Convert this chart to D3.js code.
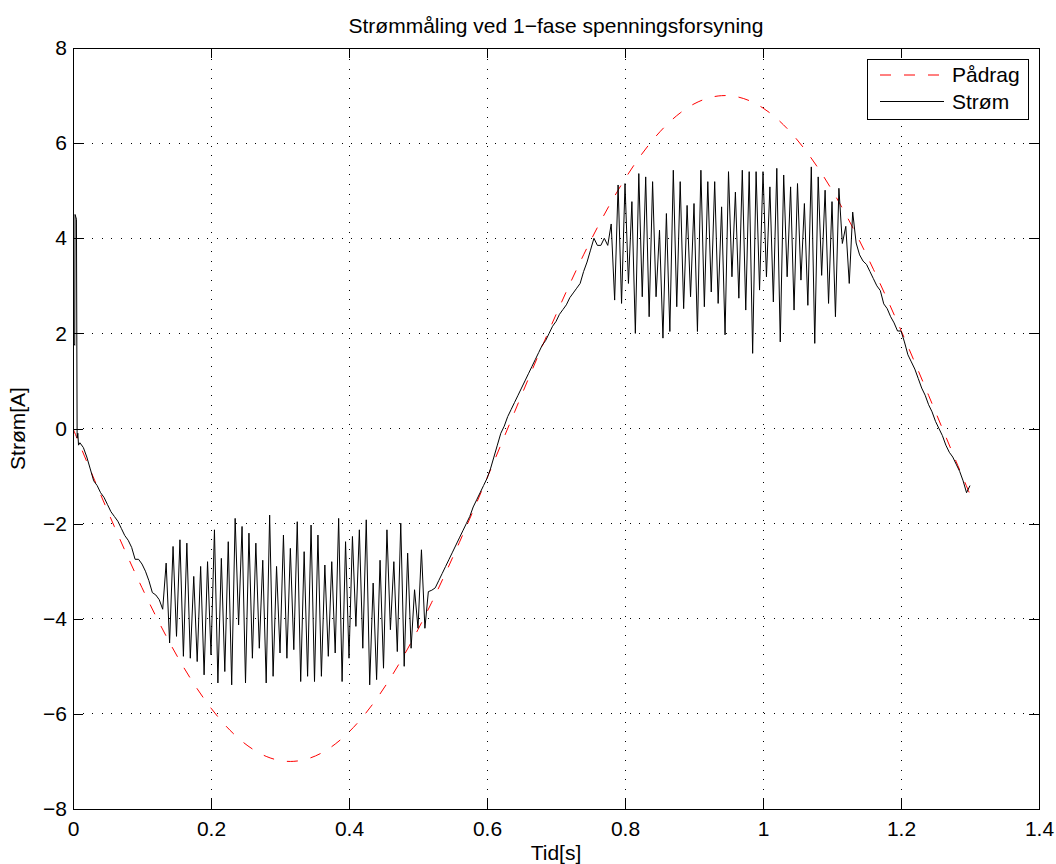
<!DOCTYPE html>
<html>
<head>
<meta charset="utf-8">
<script src="https://cdn.jsdelivr.net/npm/d3@7"></script>
<style>
  body { margin: 0; background: #fff; }
  svg { display: block; font-family: "Liberation Sans", Arial, Helvetica, sans-serif; }
</style>
</head>
<body>
<script>
// tick values
const xTicks = [0, 0.2, 0.4, 0.6, 0.8, 1, 1.2, 1.4];
const yTicks = [-8, -6, -4, -2, 0, 2, 4, 6, 8];

// Pådrag (red dashed), [tid, verdi]
const paadrag = [
  [0,0],[0.02,-0.697],[0.04,-1.387],[0.06,-2.064],[0.08,-2.719],[0.10,-3.348],[0.12,-3.943],
  [0.14,-4.500],[0.16,-5.012],[0.18,-5.473],[0.20,-5.879],[0.22,-6.229],[0.24,-6.516],[0.26,-6.738],
  [0.28,-6.894],[0.30,-6.981],[0.32,-6.998],[0.34,-6.945],[0.36,-6.824],[0.38,-6.635],[0.40,-6.380],
  [0.42,-6.062],[0.44,-5.683],[0.46,-5.248],[0.48,-4.761],[0.50,-4.227],[0.52,-3.652],[0.54,-3.038],
  [0.56,-2.394],[0.58,-1.729],[0.60,-1.045],[0.62,-0.349],[0.64,0.349],[0.66,1.045],[0.68,1.729],
  [0.70,2.394],[0.72,3.038],[0.74,3.652],[0.76,4.227],[0.78,4.761],[0.80,5.248],[0.82,5.683],
  [0.84,6.062],[0.86,6.380],[0.88,6.635],[0.90,6.824],[0.92,6.945],[0.94,6.998],[0.96,6.981],
  [0.98,6.894],[1.00,6.738],[1.02,6.516],[1.04,6.229],[1.06,5.879],[1.08,5.473],[1.10,5.012],
  [1.12,4.500],[1.14,3.943],[1.16,3.348],[1.18,2.719],[1.20,2.064],[1.22,1.387],[1.24,0.697],
  [1.26,0],[1.28,-0.697],[1.30,-1.387]
];

// Strøm (black), split in segments, [tid, verdi]
const stromStart = [
  [0,1.8],[0.0025,1.75],[0.003,4.5],[0.005,4.4],[0.006,-0.2],[0.007,-0.1],[0.008,-0.35]
];
const stromNed = [
  [0.010,-0.30],[0.015,-0.40],[0.020,-0.60],[0.025,-0.85],[0.030,-1.10],[0.035,-1.20],[0.040,-1.35],
  [0.045,-1.45],[0.050,-1.60],[0.055,-1.75],[0.060,-1.85],[0.065,-1.95],[0.070,-2.10],[0.075,-2.25],
  [0.080,-2.35],[0.085,-2.50],[0.090,-2.75],[0.095,-2.75],[0.100,-2.85],[0.105,-3.00],[0.110,-3.20],
  [0.115,-3.45],[0.120,-3.50],[0.125,-3.60],[0.130,-3.80]
];
const stromSving1 = [
  [0.135,-2.83],[0.140,-4.51],[0.145,-2.48],[0.150,-4.37],[0.155,-2.34],[0.160,-4.79],[0.165,-2.41],
  [0.170,-4.83],[0.175,-3.11],[0.180,-4.90],[0.185,-2.90],[0.190,-5.18],[0.195,-2.80],[0.200,-4.76],
  [0.205,-2.13],[0.210,-5.35],[0.215,-2.73],[0.220,-5.11],[0.225,-2.38],[0.230,-5.39],[0.235,-1.89],
  [0.240,-4.13],[0.245,-2.06],[0.250,-5.35],[0.255,-2.20],[0.260,-4.83],[0.265,-2.41],[0.270,-4.62],
  [0.275,-2.77],[0.280,-5.35],[0.285,-1.82],[0.290,-5.21],[0.295,-2.90],[0.300,-4.72],[0.305,-2.24],
  [0.310,-4.83],[0.315,-2.52],[0.320,-4.65],[0.325,-1.96],[0.330,-5.32],[0.335,-2.59],[0.340,-5.21],
  [0.345,-2.03],[0.350,-5.32],[0.355,-2.24],[0.360,-5.21],[0.365,-2.87],[0.370,-4.79],[0.375,-2.80],
  [0.380,-4.72],[0.385,-1.89],[0.390,-5.32],[0.395,-2.38],[0.400,-4.83],[0.405,-2.27],[0.410,-4.16],
  [0.415,-2.13],[0.420,-4.62],[0.425,-1.92],[0.430,-5.39],[0.435,-3.25],[0.440,-5.28],[0.445,-2.77],
  [0.450,-5.04],[0.455,-2.13],[0.460,-4.23],[0.465,-2.80],[0.470,-4.69],[0.475,-1.99],[0.480,-5.00],
  [0.485,-2.62],[0.490,-4.62],[0.495,-3.39],[0.500,-4.20],[0.505,-2.55],[0.510,-4.20],[0.515,-3.43]
];
const stromStig = [
  [0.520,-3.40],[0.525,-3.35],[0.530,-3.20],[0.535,-3.05],[0.540,-2.90],[0.545,-2.75],[0.550,-2.60],
  [0.555,-2.45],[0.560,-2.30],[0.565,-2.15],[0.570,-2.00],[0.575,-1.85],[0.580,-1.65],[0.585,-1.50],
  [0.590,-1.35],[0.595,-1.20],[0.600,-1.05],[0.605,-0.85],[0.610,-0.60],[0.615,-0.35],[0.620,-0.10],
  [0.625,0.05],[0.630,0.25],[0.635,0.40],[0.640,0.55],[0.645,0.70],[0.650,0.85],[0.655,1.00],
  [0.660,1.15],[0.665,1.30],[0.670,1.45],[0.675,1.60],[0.680,1.75],[0.685,1.85],[0.690,2.00],
  [0.695,2.15],[0.700,2.25],[0.705,2.40],[0.710,2.50],[0.715,2.60],[0.720,2.75],[0.725,2.85],
  [0.730,2.95],[0.735,3.05],[0.740,3.30],[0.745,3.50],[0.750,3.75],[0.755,4.00],[0.760,3.85],
  [0.765,3.85],[0.770,4.00],[0.775,3.85],[0.780,4.30]
];
const stromSving2 = [
  [0.785,2.70],[0.790,5.12],[0.795,2.63],[0.800,5.15],[0.805,3.05],[0.810,4.77],[0.815,2.00],
  [0.820,5.36],[0.825,2.77],[0.830,5.29],[0.835,2.35],[0.840,5.19],[0.845,2.77],[0.850,4.17],
  [0.855,1.90],[0.860,4.52],[0.865,2.04],[0.870,5.43],[0.875,2.56],[0.880,5.19],[0.885,2.52],
  [0.890,4.69],[0.895,2.77],[0.900,4.73],[0.905,2.04],[0.910,5.43],[0.915,2.56],[0.920,5.19],
  [0.925,2.87],[0.930,5.19],[0.935,2.63],[0.940,4.66],[0.945,1.97],[0.950,5.40],[0.955,3.19],
  [0.960,4.97],[0.965,2.74],[0.970,5.43],[0.975,2.49],[0.980,5.40],[0.985,1.58],[0.990,5.40],
  [0.995,2.91],[1.000,5.40],[1.005,3.19],[1.010,5.08],[1.015,2.66],[1.020,5.47],[1.025,1.82],
  [1.030,5.33],[1.035,3.19],[1.040,5.08],[1.045,2.49],[1.050,5.15],[1.055,3.12],[1.060,4.73],
  [1.065,2.59],[1.070,5.50],[1.075,1.79],[1.080,5.29],[1.085,3.22],[1.090,5.01],[1.095,2.63],
  [1.100,4.77],[1.105,2.35],[1.110,5.05],[1.115,3.89],[1.120,4.25],[1.125,3.05],[1.130,4.55]
];
const stromFall = [
  [1.135,3.90],[1.140,3.65],[1.145,3.52],[1.150,3.45],[1.155,3.30],[1.160,3.15],[1.165,3.00],
  [1.170,2.90],[1.175,2.62],[1.180,2.52],[1.185,2.35],[1.190,2.22],[1.195,2.05],[1.200,2.05],
  [1.205,1.82],[1.210,1.55],[1.215,1.40],[1.220,1.25],[1.225,1.05],[1.230,0.85],[1.235,0.70],
  [1.240,0.50],[1.245,0.35],[1.250,0.15],[1.255,0.00],[1.260,-0.15],[1.265,-0.35],[1.270,-0.50],
  [1.275,-0.60],[1.280,-0.75],[1.285,-0.90],[1.290,-1.10],[1.295,-1.35],[1.300,-1.20]
];
const strom = stromStart.concat(stromNed, stromSving1, stromStig, stromSving2, stromFall);

const width = 1056, height = 864;
const margin = {top: 48, right: 17, bottom: 55, left: 73};
const fontSize = 21;

const svg = d3.select("body").append("svg")
    .attr("width", width)
    .attr("height", height);

const x = d3.scaleLinear().domain([0, 1.4]).range([margin.left, width - margin.right]);
const y = d3.scaleLinear().domain([-8, 8]).range([height - margin.bottom, margin.top]);
const fmt = d3.format("~g");

// clip for the lines
svg.append("clipPath").attr("id", "plotClip")
  .append("rect")
    .attr("x", margin.left).attr("y", margin.top)
    .attr("width", x(1.4) - x(0)).attr("height", y(-8) - y(8));

// grid
const grid = svg.append("g")
    .attr("stroke", "#000")
    .attr("stroke-width", 1)
    .attr("stroke-dasharray", "1,8.6")
    .attr("shape-rendering", "crispEdges");
grid.selectAll(".vgrid").data(xTicks.slice(1, -1)).enter().append("line")
    .attr("x1", d => x(d)).attr("x2", d => x(d))
    .attr("y1", y(-8)).attr("y2", y(8));
grid.selectAll(".hgrid").data(yTicks.slice(1, -1)).enter().append("line")
    .attr("x1", x(0)).attr("x2", x(1.4))
    .attr("y1", d => y(d)).attr("y2", d => y(d));

// curves
const lines = svg.append("g").attr("clip-path", "url(#plotClip)");

const paadragLine = d3.line().curve(d3.curveCardinal)
    .x(d => x(d[0])).y(d => y(d[1]));
lines.append("path")
    .datum(paadrag)
    .attr("fill", "none")
    .attr("stroke", "#ff0000")
    .attr("stroke-width", 1)
    .attr("stroke-dasharray", "11,13")
    .attr("d", paadragLine);

const stromLine = d3.line()
    .x(d => x(d[0])).y(d => y(d[1]));
lines.append("path")
    .datum(strom)
    .attr("fill", "none")
    .attr("stroke", "#000")
    .attr("stroke-width", 1)
    .attr("d", stromLine);

// axes, ticks inside on all four sides
function styleAxis(g) {
  g.select(".domain").remove();
  g.selectAll("line").attr("stroke", "#000").attr("shape-rendering", "crispEdges");
  g.selectAll("text").attr("fill", "#000").style("font-size", fontSize + "px");
}
svg.append("g")
    .attr("transform", `translate(0,${y(-8)})`)
    .call(d3.axisBottom(x).tickValues(xTicks).tickSize(-10).tickPadding(12).tickFormat(fmt))
    .call(styleAxis);
svg.append("g")
    .attr("transform", `translate(0,${y(8)})`)
    .call(d3.axisTop(x).tickValues(xTicks).tickSize(-10).tickFormat(""))
    .call(styleAxis);
svg.append("g")
    .attr("transform", `translate(${x(0)},0)`)
    .call(d3.axisLeft(y).tickValues(yTicks).tickSize(-10).tickPadding(6).tickFormat(fmt))
    .call(styleAxis);
svg.append("g")
    .attr("transform", `translate(${x(1.4)},0)`)
    .call(d3.axisRight(y).tickValues(yTicks).tickSize(-10).tickFormat(""))
    .call(styleAxis);

// box
svg.append("rect")
    .attr("x", x(0)).attr("y", y(8))
    .attr("width", x(1.4) - x(0)).attr("height", y(-8) - y(8))
    .attr("fill", "none").attr("stroke", "#000").attr("stroke-width", 1)
    .attr("shape-rendering", "crispEdges");

// title and labels
svg.append("text")
    .attr("x", (x(0) + x(1.4)) / 2).attr("y", 33)
    .attr("text-anchor", "middle")
    .style("font-size", fontSize + "px")
    .text("Strømmåling ved 1−fase spenningsforsyning");
svg.append("text")
    .attr("x", (x(0) + x(1.4)) / 2).attr("y", 860)
    .attr("text-anchor", "middle")
    .style("font-size", fontSize + "px")
    .text("Tid[s]");
svg.append("text")
    .attr("transform", `translate(25,${y(0)}) rotate(-90)`)
    .attr("text-anchor", "middle")
    .style("font-size", fontSize + "px")
    .text("Strøm[A]");

// legend
const legendItems = [
  {name: "Pådrag", color: "#ff0000", dash: "11,13"},
  {name: "Strøm", color: "#000", dash: null}
];
const legend = svg.append("g").attr("transform", "translate(867,59)");
legend.append("rect")
    .attr("width", 161).attr("height", 60)
    .attr("fill", "#fff").attr("stroke", "#000")
    .attr("shape-rendering", "crispEdges");
const items = legend.selectAll(".item").data(legendItems).enter().append("g")
    .attr("transform", (d, i) => `translate(0,${16 + i * 26.5})`);
items.append("line")
    .attr("x1", 13).attr("x2", 77)
    .attr("stroke", d => d.color)
    .attr("stroke-dasharray", d => d.dash);
items.append("text")
    .attr("x", 85).attr("dy", "0.35em")
    .style("font-size", fontSize + "px")
    .text(d => d.name);
</script>
</body>
</html>
